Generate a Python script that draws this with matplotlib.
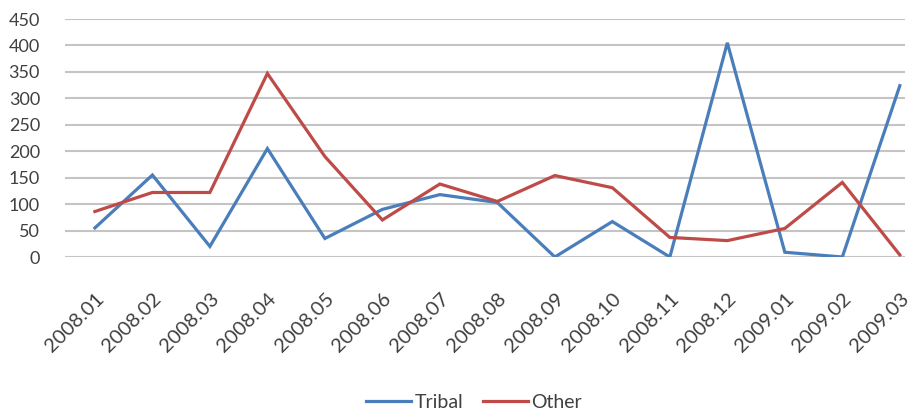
import numpy as np
import matplotlib.pyplot as plt

months = ["2008.01", "2008.02", "2008.03", "2008.04", "2008.05", "2008.06",
          "2008.07", "2008.08", "2008.09", "2008.10", "2008.11", "2008.12",
          "2009.01", "2009.02", "2009.03"]
tribal = [55, 155, 20, 205, 35, 90, 118, 103, 0, 67, 0, 405, 9, 0, 324]
other = [86, 122, 122, 347, 190, 70, 138, 105, 154, 131, 37, 31, 54, 141, 4]

plt.rcParams["font.family"] = ["Lato", "DejaVu Sans"]

fig = plt.figure(figsize=(9.11, 4.12), dpi=100)
ax = fig.add_axes([65 / 911, 1 - 257 / 412, 840 / 911, 238 / 412])

x = np.arange(len(months))
ax.plot(x, tribal, color="#4a7ebb", lw=2.3, label="Tribal", solid_joinstyle="miter")
ax.plot(x, other, color="#be4b48", lw=2.3, label="Other", solid_joinstyle="miter")

# Axis setup
ax.set_ylim(0, 450)
ax.set_xlim(-0.52, 14.09)
ax.set_yticks(np.arange(0, 451, 50))
ax.set_xticks(x)
ax.set_xticklabels(months, rotation=45, ha="right", rotation_mode="anchor")
ax.tick_params(axis="both", length=0, colors="#404040")
ax.tick_params(axis="y", pad=18, labelsize=13)
ax.tick_params(axis="x", pad=24, labelsize=14.5)
ax.yaxis.grid(True, color="#c4c4c4", lw=1.5)
ax.set_axisbelow(True)
for s in ax.spines.values():
    s.set_visible(False)

fig.legend(loc="center", bbox_to_anchor=(474 / 911, 1 - 402 / 412), ncol=2,
           frameon=False, fontsize=14, handlelength=2.3, columnspacing=1.0,
           handletextpad=0.2, labelcolor="#404040")

fig.savefig("out.png", dpi=100)
